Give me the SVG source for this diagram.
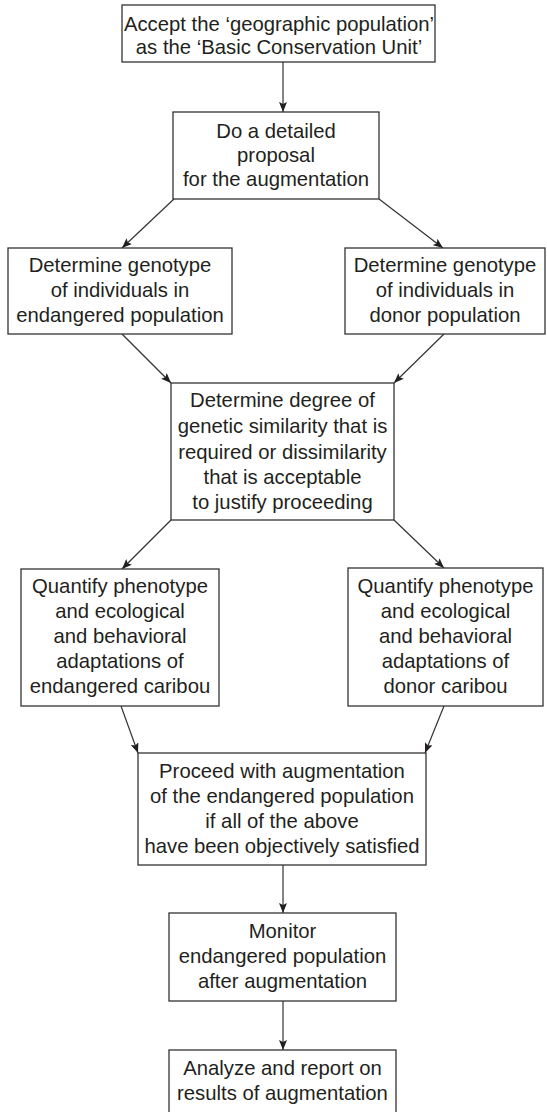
<svg xmlns="http://www.w3.org/2000/svg" width="547" height="1112" viewBox="0 0 547 1112">
<style>
  .box { fill: #ffffff; stroke: #333333; stroke-width: 1.3; }
  .lbl { font-family: "Liberation Sans", Arial, sans-serif; font-size: 20.3px; fill: #231f20; text-anchor: middle; }
  .conn { stroke: #333333; stroke-width: 1.2; fill: none; marker-end: url(#arr); }
</style>
<defs>
  <marker id="arr" markerUnits="userSpaceOnUse" markerWidth="11" markerHeight="8" refX="10" refY="4" orient="auto">
    <path d="M0,0 L10,4 L0,8 L2,4 z" fill="#231f20"/>
  </marker>
</defs>
<rect width="547" height="1112" fill="#ffffff"/>

<g id="connectors">
  <line class="conn" x1="283" y1="62" x2="283" y2="112"/>
  <line class="conn" x1="174" y1="199" x2="122" y2="248"/>
  <line class="conn" x1="379" y1="199" x2="443" y2="248"/>
  <line class="conn" x1="122" y1="334" x2="171" y2="383"/>
  <line class="conn" x1="444" y1="334" x2="394" y2="383"/>
  <line class="conn" x1="171" y1="520" x2="122" y2="569"/>
  <line class="conn" x1="394" y1="520" x2="444" y2="568"/>
  <line class="conn" x1="121" y1="706" x2="138" y2="753"/>
  <line class="conn" x1="444" y1="706" x2="425" y2="753"/>
  <line class="conn" x1="283" y1="865" x2="283" y2="913"/>
  <line class="conn" x1="283" y1="1001" x2="283" y2="1050"/>
</g>

<g id="n1">
  <rect class="box" x="122" y="5" width="313" height="57"/>
  <text class="lbl" x="279" y="31">Accept the ‘geographic population’</text>
  <text class="lbl" x="279" y="54">as the ‘Basic Conservation Unit’</text>
</g>

<g id="n2">
  <rect class="box" x="173" y="112" width="206" height="87"/>
  <text class="lbl" x="276" y="138">Do a detailed</text>
  <text class="lbl" x="276" y="162">proposal</text>
  <text class="lbl" x="276" y="186">for the augmentation</text>
</g>

<g id="n3">
  <rect class="box" x="8" y="248" width="224" height="86"/>
  <text class="lbl" x="120" y="272">Determine genotype</text>
  <text class="lbl" x="120" y="297">of individuals in</text>
  <text class="lbl" x="120" y="322">endangered population</text>
</g>

<g id="n4">
  <rect class="box" x="345" y="248" width="200" height="86"/>
  <text class="lbl" x="445" y="272">Determine genotype</text>
  <text class="lbl" x="445" y="297">of individuals in</text>
  <text class="lbl" x="445" y="322">donor population</text>
</g>

<g id="n5">
  <rect class="box" x="171" y="383" width="223" height="137"/>
  <text class="lbl" x="282.5" y="407">Determine degree of</text>
  <text class="lbl" x="282.5" y="433">genetic similarity that is</text>
  <text class="lbl" x="282.5" y="459">required or dissimilarity</text>
  <text class="lbl" x="282.5" y="484">that is acceptable</text>
  <text class="lbl" x="282.5" y="509">to justify proceeding</text>
</g>

<g id="n6">
  <rect class="box" x="21" y="569" width="198" height="137"/>
  <text class="lbl" x="120" y="593">Quantify phenotype</text>
  <text class="lbl" x="120" y="618">and ecological</text>
  <text class="lbl" x="120" y="643">and behavioral</text>
  <text class="lbl" x="120" y="668">adaptations of</text>
  <text class="lbl" x="120" y="693">endangered caribou</text>
</g>

<g id="n7">
  <rect class="box" x="348" y="568" width="195" height="138"/>
  <text class="lbl" x="445.5" y="593">Quantify phenotype</text>
  <text class="lbl" x="445.5" y="618">and ecological</text>
  <text class="lbl" x="445.5" y="643">and behavioral</text>
  <text class="lbl" x="445.5" y="668">adaptations of</text>
  <text class="lbl" x="445.5" y="693">donor caribou</text>
</g>

<g id="n8">
  <rect class="box" x="138" y="753" width="288" height="112"/>
  <text class="lbl" x="282" y="778">Proceed with augmentation</text>
  <text class="lbl" x="282" y="803">of the endangered population</text>
  <text class="lbl" x="282" y="828">if all of the above</text>
  <text class="lbl" x="282" y="853">have been objectively satisfied</text>
</g>

<g id="n9">
  <rect class="box" x="169" y="913" width="227" height="88"/>
  <text class="lbl" x="282.5" y="938">Monitor</text>
  <text class="lbl" x="282.5" y="963">endangered population</text>
  <text class="lbl" x="282.5" y="988">after augmentation</text>
</g>

<g id="n10">
  <rect class="box" x="169" y="1050" width="227" height="70"/>
  <text class="lbl" x="282.5" y="1075">Analyze and report on</text>
  <text class="lbl" x="282.5" y="1100">results of augmentation</text>
</g>
</svg>
